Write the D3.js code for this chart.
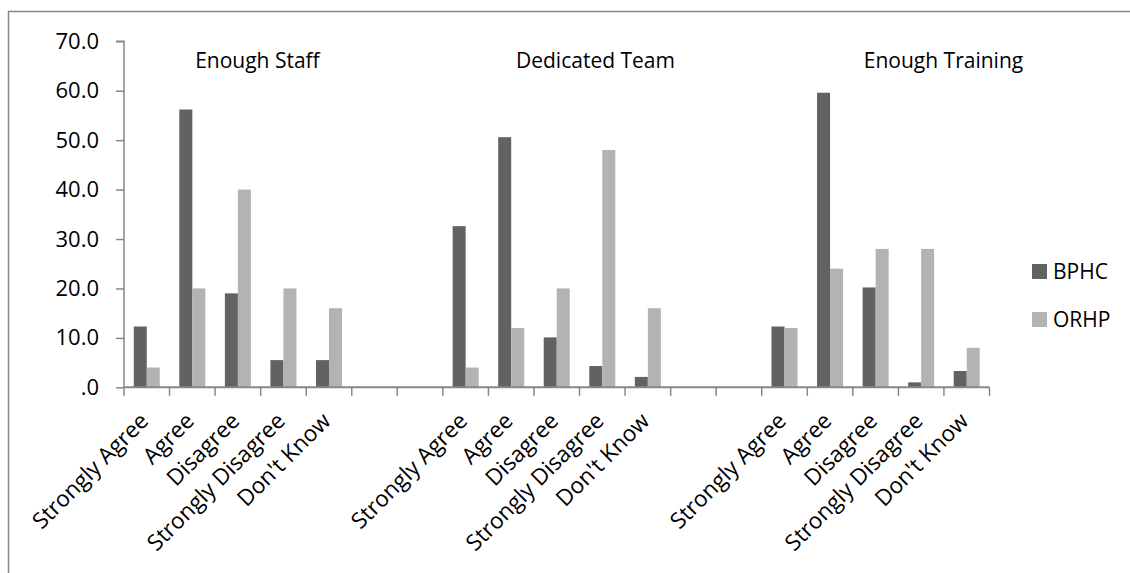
<!DOCTYPE html>
<html>
<head>
<meta charset="utf-8">
<script src="https://cdn.jsdelivr.net/npm/d3@7"></script>
<style>
  html, body { margin: 0; padding: 0; background: #fff; }
  svg { display: block; font-family: "Open Sans", Lato, sans-serif; }
</style>
</head>
<body>
<svg id="chart" width="1130" height="573"></svg>
<script>
// Survey question groups and the answer options shown under each group
const groups = ["Enough Staff", "Dedicated Team", "Enough Training"];
const responses = ["Strongly Agree", "Agree", "Disagree", "Strongly Disagree", "Don't Know"];
const seriesNames = ["BPHC", "ORHP"];

// Percentages per group, in the order of `responses`
const bphcStaff    = [12.3, 56.2, 19.0, 5.5, 5.5];
const orhpStaff    = [4.0, 20.0, 40.0, 20.0, 16.0];
const bphcTeam     = [32.6, 50.6, 10.1, 4.3, 2.1];
const orhpTeam     = [4.0, 12.0, 20.0, 48.0, 16.0];
const bphcTraining = [12.3, 59.6, 20.2, 1.0, 3.3];
const orhpTraining = [12.0, 24.0, 28.0, 28.0, 8.0];

const yTickValues = [0, 10, 20, 30, 40, 50, 60, 70];
const yTickLabels = [".0", "10.0", "20.0", "30.0", "40.0", "50.0", "60.0", "70.0"];

const seriesByGroup = [
  [bphcStaff, orhpStaff],
  [bphcTeam, orhpTeam],
  [bphcTraining, orhpTraining]
];

// Category slots: five answers per group, two empty slots between groups
const gapSlots = 2;
const slots = [];
groups.forEach((g, gi) => {
  responses.forEach((r, ri) => slots.push({ key: `${gi}-${ri}`, label: r, gi, ri }));
  if (gi < groups.length - 1) {
    for (let k = 0; k < gapSlots; k++) slots.push({ key: `gap-${gi}-${k}`, label: "", gi: null });
  }
});

const barRows = [];
slots.forEach(s => {
  if (s.gi === null) return;
  seriesNames.forEach((name, si) => {
    barRows.push({ slot: s.key, series: name, value: seriesByGroup[s.gi][si][s.ri] });
  });
});

// Layout
const plot = { left: 124, right: 989.5, top: 41.3, bottom: 387.3 };
const colors = { BPHC: "#626262", ORHP: "#b3b3b3" };
const axisColor = "#878787";
const fontSize = 21;

const svg = d3.select("#chart");

svg.append("rect").attr("width", 1130).attr("height", 573).attr("fill", "#fff");

// Outer chart-area frame (its right and bottom edges lie beyond the view)
svg.append("rect")
  .attr("x", 8.5).attr("y", 11.5)
  .attr("width", 1140).attr("height", 600)
  .attr("fill", "none").attr("stroke", axisColor).attr("stroke-width", 1.5);

const x = d3.scaleBand()
  .domain(slots.map(s => s.key))
  .range([plot.left, plot.right])
  .padding(0);

const xInner = d3.scaleBand()
  .domain(seriesNames)
  .range([0, x.bandwidth()])
  .paddingInner(0)
  .paddingOuter(0.75);

const y = d3.scaleLinear()
  .domain([0, 70])
  .range([plot.bottom, plot.top]);

// Bars
svg.append("g")
  .selectAll("rect")
  .data(barRows)
  .join("rect")
  .attr("x", d => x(d.slot) + xInner(d.series))
  .attr("y", d => y(d.value))
  .attr("width", xInner.bandwidth())
  .attr("height", d => y(0) - y(d.value))
  .attr("fill", d => colors[d.series]);

// Y axis
const yAxis = d3.axisLeft(y)
  .tickValues(yTickValues)
  .tickFormat((d, i) => yTickLabels[i])
  .tickSize(8)
  .tickPadding(17);

const gy = svg.append("g")
  .attr("transform", `translate(${plot.left},0)`)
  .call(yAxis);
gy.select(".domain").attr("stroke", axisColor).attr("stroke-width", 1.5).attr("d", `M-8,${plot.top}H0V${plot.bottom}`);
gy.selectAll(".tick line").attr("stroke", axisColor).attr("stroke-width", 1.5);
gy.selectAll(".tick text")
  .attr("fill", "#000")
  .style("font-size", "22px")
  .style("font-family", "'Open Sans', Lato, sans-serif");

// X axis: tick marks on slot boundaries
const boundaries = slots.map(s => x(s.key)).concat([plot.right]);
const gx = svg.append("g");
gx.append("line")
  .attr("x1", plot.left).attr("x2", plot.right)
  .attr("y1", plot.bottom).attr("y2", plot.bottom)
  .attr("stroke", axisColor).attr("stroke-width", 2);
gx.selectAll("line.tick")
  .data(boundaries)
  .join("line")
  .attr("class", "tick")
  .attr("x1", d => d).attr("x2", d => d)
  .attr("y1", plot.bottom).attr("y2", plot.bottom + 8.5)
  .attr("stroke", axisColor).attr("stroke-width", 1.5);

// Rotated category labels
gx.selectAll("text.cat")
  .data(slots.filter(s => s.label))
  .join("text")
  .attr("class", "cat")
  .attr("text-anchor", "end")
  .attr("transform", d => `translate(${x(d.key) + x.bandwidth() / 2 + 3},${plot.bottom + 35}) rotate(-45)`)
  .style("font-size", "22.5px")
  .attr("fill", "#000")
  .text(d => d.label);

// Group titles above each block of bars
const titleSlotOffset = [2.93, 10.35, 17.99];
svg.selectAll("text.group")
  .data(groups)
  .join("text")
  .attr("class", "group")
  .attr("x", (d, i) => plot.left + titleSlotOffset[i] * x.step())
  .attr("y", 67.5)
  .attr("text-anchor", "middle")
  .style("font-size", fontSize + "px")
  .attr("fill", "#000")
  .text(d => d);

// Legend
const legend = svg.append("g").attr("transform", "translate(1032,264)");
const items = legend.selectAll("g")
  .data(seriesNames)
  .join("g")
  .attr("transform", (d, i) => `translate(0,${i * 48})`);
items.append("rect")
  .attr("width", 15).attr("height", 15)
  .attr("fill", d => colors[d]);
items.append("text")
  .attr("x", 21).attr("y", 15)
  .style("font-size", fontSize + "px")
  .attr("fill", "#000")
  .text(d => d);
</script>
</body>
</html>
